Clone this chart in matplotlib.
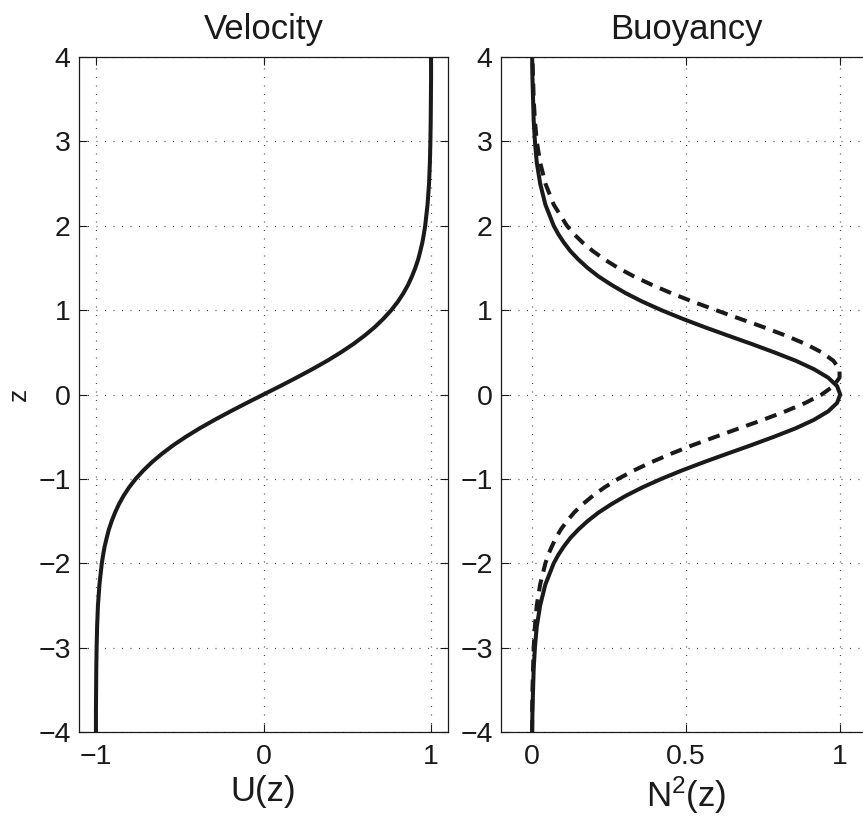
import matplotlib
matplotlib.use("Agg")
import matplotlib.pyplot as plt

plt.rcParams['font.family'] = ['Liberation Sans', 'DejaVu Sans']
plt.rcParams['mathtext.default'] = 'regular'
plt.rcParams['axes.unicode_minus'] = True

# depth coordinate (values read at these z)
z = [-4.0, -3.75, -3.5, -3.25, -3.0, -2.75, -2.5, -2.25,
     -2.0, -1.9, -1.8, -1.7, -1.6, -1.5, -1.4, -1.3, -1.2, -1.1,
     -1.0, -0.9, -0.8, -0.7, -0.6, -0.5, -0.4, -0.3, -0.2, -0.1,
     0.0, 0.1, 0.2, 0.3, 0.4, 0.5, 0.6, 0.7, 0.8, 0.9,
     1.0, 1.1, 1.2, 1.3, 1.4, 1.5, 1.6, 1.7, 1.8, 1.9, 2.0,
     2.25, 2.5, 2.75, 3.0, 3.25, 3.5, 3.75, 4.0]

# velocity profile U(z)
U = [-0.999, -0.999, -0.998, -0.997, -0.995, -0.992, -0.987, -0.978,
     -0.964, -0.956, -0.947, -0.935, -0.922, -0.905, -0.885, -0.862, -0.834, -0.801,
     -0.762, -0.716, -0.664, -0.604, -0.537, -0.462, -0.380, -0.291, -0.197, -0.100,
     0.000, 0.100, 0.197, 0.291, 0.380, 0.462, 0.537, 0.604, 0.664, 0.716,
     0.762, 0.801, 0.834, 0.862, 0.885, 0.905, 0.922, 0.935, 0.947, 0.956, 0.964,
     0.978, 0.987, 0.992, 0.995, 0.997, 0.998, 0.999, 0.999]

# buoyancy frequency squared, solid curve
N2_solid = [0.001, 0.002, 0.004, 0.006, 0.010, 0.016, 0.027, 0.044,
            0.071, 0.086, 0.104, 0.125, 0.151, 0.181, 0.216, 0.258, 0.305, 0.359,
            0.420, 0.487, 0.559, 0.635, 0.712, 0.786, 0.856, 0.915, 0.961, 0.990,
            1.000, 0.990, 0.961, 0.915, 0.856, 0.786, 0.712, 0.635, 0.559, 0.487,
            0.420, 0.359, 0.305, 0.258, 0.216, 0.181, 0.151, 0.125, 0.104, 0.086, 0.071,
            0.044, 0.027, 0.016, 0.010, 0.006, 0.004, 0.002, 0.001]

# buoyancy frequency squared, dashed curve
N2_dashed = [0.001, 0.001, 0.002, 0.004, 0.006, 0.010, 0.016, 0.027,
             0.044, 0.053, 0.065, 0.078, 0.094, 0.114, 0.137, 0.165, 0.198, 0.236,
             0.280, 0.331, 0.389, 0.453, 0.522, 0.597, 0.673, 0.750, 0.822, 0.887,
             0.940, 0.978, 0.998, 0.998, 0.978, 0.940, 0.887, 0.822, 0.750, 0.673,
             0.597, 0.522, 0.453, 0.389, 0.331, 0.280, 0.236, 0.198, 0.165, 0.137, 0.114,
             0.071, 0.044, 0.027, 0.016, 0.010, 0.006, 0.004, 0.002]

yticks = [-4, -3, -2, -1, 0, 1, 2, 3, 4]
u_ticks = [-1, 0, 1]
n_ticks = [0, 0.5, 1]
n_ticklabels = ['0', '0.5', '1']

fig = plt.figure(figsize=(8.63, 8.16), dpi=100)
ax1 = fig.add_axes([79/863, 84/816, 369/863, 675/816])
ax2 = fig.add_axes([501/863, 84/816, 370/863, 675/816])

lw = 2.9
ax1.plot(U, z, color='#1a1a1a', lw=lw, solid_capstyle='butt')
ax2.plot(N2_solid, z, color='#1a1a1a', lw=lw, solid_capstyle='butt')
ax2.plot(N2_dashed, z, color='#1a1a1a', lw=lw, dashes=(3.0, 2.0))

for ax in (ax1, ax2):
    ax.set_ylim(-4, 4)
    ax.set_yticks(yticks)
    ax.grid(True, color='#444444', linestyle=(0, (0.8, 6)), linewidth=0.9)
    ax.tick_params(direction='in', length=6, width=0.8, labelsize=20.5,
                   top=True, right=True, pad=6, colors='#1a1a1a')
    ax.tick_params(axis='x', pad=9)
    for s in ax.spines.values():
        s.set_linewidth(0.9)
        s.set_color('#1a1a1a')

ax1.set_xlim(-1.1, 1.1)
ax1.set_xticks(u_ticks)
ax2.set_xlim(-0.1, 1.1)
ax2.set_xticks(n_ticks)
ax2.set_xticklabels(n_ticklabels)

ax1.set_title('Velocity', fontsize=25, pad=13, color='#1a1a1a')
ax2.set_title('Buoyancy', fontsize=25, pad=13, color='#1a1a1a')
ax1.set_xlabel('U(z)', fontsize=25, labelpad=3, color='#1a1a1a')
ax2.set_xlabel('N$^{2}$(z)', fontsize=25, labelpad=3, color='#1a1a1a')
ax1.set_ylabel('z', fontsize=19, labelpad=5, color='#1a1a1a')

fig.savefig('out.png', dpi=100)
